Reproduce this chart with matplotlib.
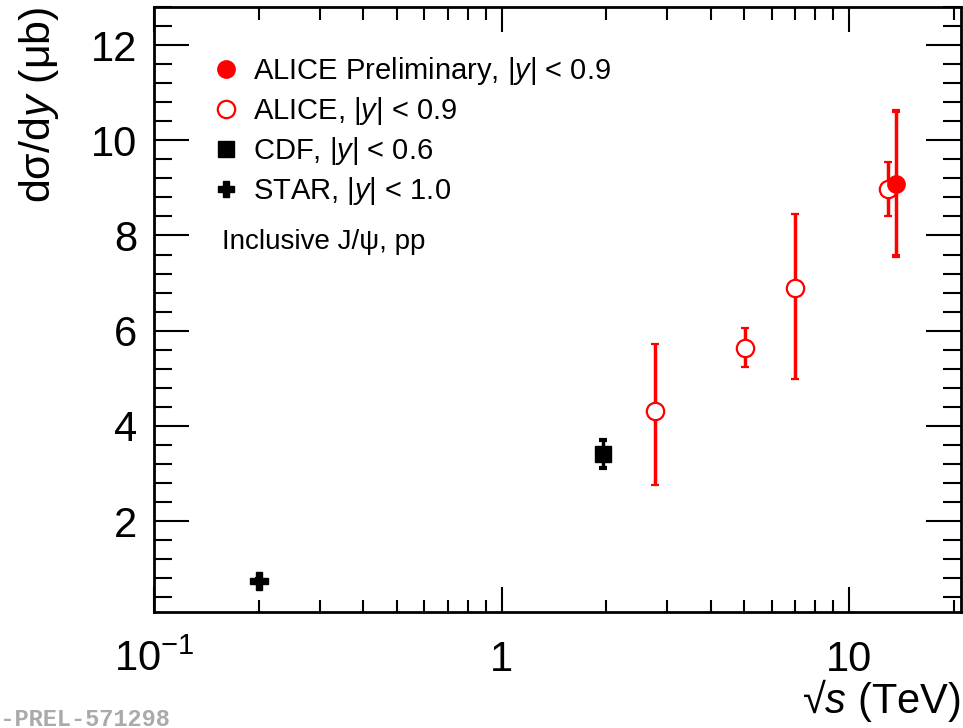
import matplotlib
matplotlib.use("Agg")
import matplotlib.pyplot as plt
from matplotlib.lines import Line2D
from matplotlib.ticker import FixedLocator, MultipleLocator, NullFormatter
import numpy as np

plt.rcParams["font.family"] = ["Liberation Sans", "DejaVu Sans"]
plt.rcParams["mathtext.fontset"] = "custom"
plt.rcParams["mathtext.rm"] = "Liberation Sans"
plt.rcParams["mathtext.it"] = "Liberation Sans:italic"
plt.rcParams["mathtext.bf"] = "Liberation Sans:bold"

RED = "#ff0000"

# ALICE preliminary (13.6 TeV)
prel_x = [13.6]
prel_y = [9.08]
prel_lo = [1.51]
prel_hi = [1.53]

# ALICE published
alice_x = [2.76, 5.02, 7.0, 12.9]
alice_y = [4.31, 5.63, 6.89, 8.97]
alice_lo = [1.55, 0.39, 1.91, 0.56]
alice_hi = [1.41, 0.42, 1.56, 0.57]

# CDF
cdf_x = [1.96]
cdf_y = [3.40]
cdf_lo = [0.29]
cdf_hi = [0.31]

# STAR
star_x = [0.2]
star_y = [0.74]
star_err = [0.05]

fig = plt.figure(figsize=(9.63, 7.28), dpi=100)
ax = fig.add_axes([0.160, 0.1593, 0.838, 0.8311])

ax.errorbar(star_x, star_y, yerr=star_err, fmt="P", color="black", ms=13,
            elinewidth=2.5, capsize=3, capthick=3, zorder=3)
ax.errorbar(cdf_x, cdf_y, yerr=[cdf_lo, cdf_hi], fmt="s", color="black", ms=12,
            elinewidth=2.5, capsize=3, capthick=3, zorder=3)
ax.errorbar(alice_x, alice_y, yerr=[alice_lo, alice_hi], fmt="o", color=RED,
            mfc="white", mec=RED, mew=1.6, ms=12.5, elinewidth=2.5,
            capsize=3, capthick=3, zorder=4)
ax.errorbar(prel_x, prel_y, yerr=[prel_lo, prel_hi], fmt="o", color=RED, ms=12.5,
            elinewidth=2.5, capsize=3, capthick=3, zorder=5)

ax.set_xscale("log")
ax.set_xlim(0.1, 21)
ax.set_ylim(0.09, 12.8)

ax.xaxis.set_major_locator(FixedLocator([0.1, 1, 10]))
ax.xaxis.set_minor_locator(FixedLocator(
    [m * d for d in (0.1, 1, 10) for m in range(2, 10)]))
ax.xaxis.set_minor_formatter(NullFormatter())
ax.set_xticklabels([r"$10^{-1}$", "1", "10"])
ax.yaxis.set_major_locator(MultipleLocator(2))
ax.yaxis.set_minor_locator(MultipleLocator(0.4))

ax.tick_params(which="both", direction="in", top=True, right=True, width=1.5,
               labelsize=30)
ax.tick_params(axis="y", which="major", length=25, pad=12)
ax.tick_params(axis="y", which="minor", length=13)
ax.tick_params(axis="x", which="major", length=18, pad=20)
ax.tick_params(axis="x", which="minor", length=9)
for s in ax.spines.values():
    s.set_linewidth(2)

ax.set_ylabel("dσ/d$y$ (μb)", fontsize=31, loc="top")
ax.yaxis.set_label_coords(-0.115, 1.0)
ax.set_xlabel("√$s$ (TeV)", fontsize=30, loc="right", labelpad=-2)

handles = [
    Line2D([], [], ls="none", marker="o", color=RED, ms=12.5),
    Line2D([], [], ls="none", marker="o", mfc="white", mec=RED, mew=1.6, ms=12.5),
    Line2D([], [], ls="none", marker="s", color="black", ms=11),
    Line2D([], [], ls="none", marker="P", color="black", ms=12),
]
labels = [
    r"ALICE Preliminary, |$y$| < 0.9",
    r"ALICE, |$y$| < 0.9",
    r"CDF, |$y$| < 0.6",
    r"STAR, |$y$| < 1.0",
]
ax.legend(handles, labels, loc="upper left", bbox_to_anchor=(0.056, 0.94),
          frameon=False, fontsize=21, handlelength=1.0, handletextpad=0.45,
          labelspacing=0.28, borderaxespad=0)

ax.text(0.084, 0.612, "Inclusive J/ψ, pp", transform=ax.transAxes,
        fontsize=20, va="center", ha="left")

fig.text(170 / 963, 1 - 719 / 728, "ALI-PREL-571298", fontsize=17,
         family="Liberation Mono", color="#aaaaaa", fontweight="bold",
         ha="right", va="center")

fig.savefig("out.png", dpi=100, facecolor="white")
